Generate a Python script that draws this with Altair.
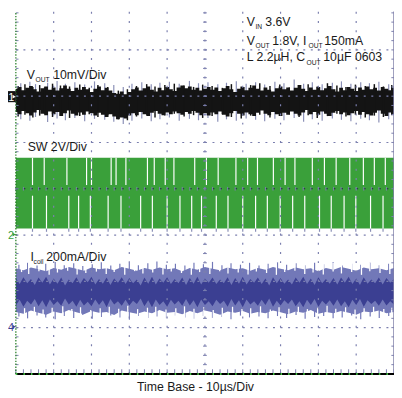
import altair as alt
import pandas as pd

# Horizontal: time in µs (10 µs/div, 10 divisions). Vertical: graticule divisions (centre = 0).
X_DOMAIN = [0, 100]
Y_DOMAIN = [-4, 3.83]

# ---------------- Channel 1: VOUT ripple (10 mV/div), band read every 1 µs ----------------
t_1us = list(range(0, 101))
vout_top = [2.16, 2.20, 2.13, 2.18, 2.22, 2.15, 2.10, 2.17, 2.21, 2.14,
            2.19, 2.12, 2.17, 2.23, 2.16, 2.11, 2.18, 2.14, 2.20, 2.15,
            2.09, 2.16, 2.21, 2.13, 2.18, 2.12, 2.07, 2.05, 2.10, 2.04,
            2.09, 2.15, 2.19, 2.12, 2.17, 2.21, 2.14, 2.10, 2.18, 2.13,
            2.20, 2.15, 2.11, 2.19, 2.23, 2.17, 2.21, 2.14, 2.18, 2.12,
            2.16, 2.20, 2.14, 2.19, 2.11, 2.17, 2.22, 2.15, 2.09, 2.16,
            2.20, 2.13, 2.18, 2.23, 2.16, 2.12, 2.19, 2.14, 2.10, 2.17,
            2.21, 2.15, 2.19, 2.12, 2.18, 2.24, 2.16, 2.11, 2.19, 2.14,
            2.20, 2.13, 2.17, 2.22, 2.15, 2.10, 2.18, 2.13, 2.20, 2.16,
            2.11, 2.19, 2.14, 2.21, 2.15, 2.18, 2.12, 2.20, 2.16, 2.13, 2.18]
vout_bot = [1.66, 1.61, 1.68, 1.63, 1.58, 1.65, 1.70, 1.62, 1.59, 1.67,
            1.61, 1.66, 1.57, 1.63, 1.69, 1.62, 1.58, 1.65, 1.60, 1.67,
            1.63, 1.58, 1.64, 1.60, 1.55, 1.61, 1.56, 1.50, 1.54, 1.52,
            1.58, 1.63, 1.59, 1.66, 1.61, 1.57, 1.64, 1.68, 1.62, 1.59,
            1.65, 1.61, 1.67, 1.63, 1.60, 1.66, 1.62, 1.68, 1.64, 1.59,
            1.63, 1.58, 1.65, 1.61, 1.67, 1.60, 1.56, 1.63, 1.68, 1.62,
            1.58, 1.65, 1.61, 1.57, 1.64, 1.69, 1.62, 1.59, 1.66, 1.61,
            1.57, 1.64, 1.60, 1.67, 1.62, 1.58, 1.65, 1.70, 1.61, 1.66,
            1.60, 1.67, 1.62, 1.57, 1.64, 1.68, 1.61, 1.65, 1.59, 1.63,
            1.68, 1.60, 1.66, 1.61, 1.58, 1.64, 1.69, 1.62, 1.57, 1.65, 1.61]
vout_spike_t = [1.3, 3.7, 5.2, 8.4, 10.9, 13.1, 15.6, 18.2, 20.8, 23.5,
                25.9, 28.4, 30.7, 33.3, 35.8, 38.1, 40.6, 43.2, 45.9, 48.3,
                50.8, 53.4, 55.7, 58.3, 60.9, 63.4, 65.8, 68.5, 70.9, 73.6,
                76.1, 78.4, 81.0, 83.7, 86.1, 88.6, 91.2, 93.5, 96.0, 98.6]
vout_spike_lo = [1.50, 1.47, 1.55, 1.44, 1.52, 1.48, 1.53, 1.46, 1.51, 1.49,
                 1.45, 1.40, 1.47, 1.52, 1.46, 1.50, 1.54, 1.47, 1.51, 1.48,
                 1.53, 1.45, 1.50, 1.47, 1.52, 1.49, 1.46, 1.51, 1.48, 1.53,
                 1.45, 1.50, 1.47, 1.52, 1.49, 1.46, 1.51, 1.48, 1.43, 1.50]
vout_spike_hi = [2.28, 2.31, 2.26, 2.29, 2.33, 2.27, 2.30, 2.25, 2.32, 2.28,
                 2.24, 2.20, 2.27, 2.30, 2.26, 2.29, 2.31, 2.27, 2.33, 2.28,
                 2.30, 2.26, 2.29, 2.32, 2.27, 2.30, 2.25, 2.31, 2.28, 2.36,
                 2.27, 2.30, 2.26, 2.29, 2.32, 2.27, 2.30, 2.28, 2.31, 2.26]
vout_dark_t = [0.6, 2.4, 4.5, 6.3, 7.6, 9.7, 11.8, 14.2, 16.9, 19.4,
               21.7, 24.3, 27.1, 29.5, 31.9, 34.6, 36.8, 39.4, 41.9, 44.5,
               47.0, 49.4, 51.9, 54.6, 57.0, 59.6, 62.1, 64.5, 67.2, 69.8,
               72.3, 74.9, 77.3, 79.7, 82.4, 84.9, 87.3, 89.8, 92.4, 94.8, 97.2, 99.4]
vout_dark_lo = [1.56, 1.60, 1.54, 1.58, 1.62, 1.55, 1.59, 1.53, 1.57, 1.61,
                1.55, 1.59, 1.50, 1.48, 1.56, 1.60, 1.54, 1.58, 1.62, 1.56,
                1.59, 1.53, 1.57, 1.61, 1.55, 1.52, 1.58, 1.60, 1.54, 1.57,
                1.61, 1.55, 1.59, 1.53, 1.57, 1.62, 1.56, 1.60, 1.54, 1.58, 1.55, 1.59]
vout_dark_hi = [2.22, 2.26, 2.20, 2.24, 2.19, 2.27, 2.23, 2.21, 2.25, 2.18,
                2.24, 2.20, 2.12, 2.15, 2.22, 2.26, 2.21, 2.24, 2.27, 2.23,
                2.20, 2.25, 2.22, 2.18, 2.26, 2.21, 2.24, 2.28, 2.22, 2.25,
                2.19, 2.23, 2.26, 2.21, 2.28, 2.23, 2.20, 2.25, 2.22, 2.26, 2.21, 2.24]

# ---------------- Channel 2: SW node (2 V/div) ----------------
sw_high = 0.67
sw_low = -0.86
sw_gap_top_t = [4.4, 7.5, 13.5, 18.7, 20.0, 25.2, 26.5, 29.1, 34.8, 36.6, 39.5, 41.8,
                47.3, 50.4, 53.5, 58.2, 61.3, 63.9, 68.1, 71.2, 73.8, 78.4, 81.6,
                84.7, 88.3, 91.9, 94.8, 97.7]
sw_gap_bot_t = [4.4, 8.1, 14.0, 16.6, 19.7, 24.4, 27.8, 33.0, 36.1, 40.0, 43.4, 46.5,
                49.1, 53.0, 56.1, 60.0, 63.4, 66.5, 69.9, 73.2, 76.4, 80.3, 83.4,
                86.8, 89.9, 93.8, 97.1]
sw_gap_mid = 0.08
sw_gap_mid_lo = -0.15
sw_under_lo = -0.93

# ---------------- Channel 4: coil current (200 mA/div) ----------------
t_2us = list(range(0, 101, 2))
il_outer_top = [-1.72, -1.76, -1.70, -1.74, -1.78, -1.71, -1.75, -1.69, -1.73, -1.77,
                -1.70, -1.74, -1.72, -1.76, -1.69, -1.73, -1.77, -1.71, -1.75, -1.70,
                -1.74, -1.72, -1.78, -1.71, -1.75, -1.69, -1.73, -1.76, -1.70, -1.74,
                -1.72, -1.77, -1.71, -1.75, -1.69, -1.73, -1.76, -1.70, -1.74, -1.72,
                -1.78, -1.71, -1.75, -1.69, -1.73, -1.77, -1.70, -1.74, -1.72, -1.76, -1.71]
il_outer_bot = [-2.66, -2.70, -2.63, -2.68, -2.72, -2.65, -2.69, -2.62, -2.67, -2.71,
                -2.64, -2.68, -2.66, -2.73, -2.63, -2.67, -2.70, -2.65, -2.69, -2.62,
                -2.68, -2.66, -2.71, -2.64, -2.69, -2.63, -2.67, -2.72, -2.65, -2.68,
                -2.64, -2.70, -2.66, -2.69, -2.63, -2.67, -2.71, -2.65, -2.68, -2.62,
                -2.70, -2.66, -2.69, -2.64, -2.68, -2.72, -2.65, -2.67, -2.63, -2.69, -2.66]
il_core_top = [-1.93, -2.06, -1.91, -2.04, -1.95, -2.08, -1.92, -2.03, -1.90, -2.07,
               -1.94, -2.05, -1.92, -2.09, -1.96, -2.04, -1.91, -2.06, -1.93, -2.02,
               -1.90, -2.07, -1.95, -2.05, -1.92, -2.08, -1.94, -2.03, -1.91, -2.06,
               -1.93, -2.04, -1.96, -2.09, -1.92, -2.05, -1.90, -2.07, -1.94, -2.03,
               -1.91, -2.06, -1.95, -2.04, -1.92, -2.08, -1.93, -2.05, -1.90, -2.07,
               -1.94, -2.03, -1.92, -2.06, -1.96, -2.04, -1.91, -2.08, -1.93, -2.05,
               -1.90, -2.07, -1.95, -2.03, -1.92, -2.06, -1.94, -2.09, -1.91, -2.04,
               -1.93, -2.05, -1.96, -2.07, -1.92, -2.03, -1.90, -2.06, -1.94, -2.08,
               -1.91, -2.04, -1.95, -2.05, -1.93, -2.07, -1.92, -2.03, -1.90, -2.06,
               -1.94, -2.08, -1.91, -2.05, -1.96, -2.04, -1.92, -2.07, -1.93, -2.03, -1.95]
il_core_bot = [-2.52, -2.40, -2.55, -2.42, -2.50, -2.38, -2.54, -2.41, -2.56, -2.39,
               -2.51, -2.43, -2.53, -2.37, -2.50, -2.42, -2.55, -2.40, -2.52, -2.44,
               -2.54, -2.39, -2.51, -2.41, -2.56, -2.38, -2.50, -2.43, -2.53, -2.40,
               -2.52, -2.42, -2.49, -2.37, -2.54, -2.41, -2.56, -2.39, -2.51, -2.43,
               -2.55, -2.40, -2.50, -2.42, -2.53, -2.38, -2.52, -2.41, -2.56, -2.39,
               -2.51, -2.43, -2.54, -2.40, -2.49, -2.42, -2.55, -2.38, -2.52, -2.41,
               -2.56, -2.39, -2.50, -2.43, -2.53, -2.40, -2.51, -2.37, -2.55, -2.42,
               -2.52, -2.41, -2.49, -2.39, -2.54, -2.43, -2.56, -2.40, -2.51, -2.38,
               -2.55, -2.42, -2.50, -2.41, -2.53, -2.39, -2.54, -2.43, -2.56, -2.40,
               -2.51, -2.38, -2.55, -2.41, -2.49, -2.42, -2.53, -2.39, -2.52, -2.43, -2.50]
il_spike_t = [0.8, 3.1, 5.6, 7.9, 10.4, 12.8, 15.3, 17.7, 20.2, 22.6, 25.1, 27.5,
              30.0, 32.4, 34.9, 37.3, 39.8, 42.2, 44.7, 47.1, 49.6, 52.0, 54.5,
              56.9, 59.4, 61.8, 64.3, 66.7, 69.2, 71.6, 74.1, 76.5, 79.0, 81.4,
              83.9, 86.3, 88.8, 91.2, 93.7, 96.1, 98.6]
il_spike_hi = [-1.64, -1.60, -1.66, -1.62, -1.58, -1.65, -1.61, -1.67, -1.63, -1.59,
               -1.66, -1.62, -1.60, -1.65, -1.61, -1.57, -1.64, -1.62, -1.66, -1.60,
               -1.63, -1.58, -1.65, -1.61, -1.64, -1.60, -1.66, -1.62, -1.59, -1.64,
               -1.61, -1.65, -1.60, -1.63, -1.58, -1.66, -1.62, -1.64, -1.60, -1.65, -1.62]
il_spike_lo = [-2.76, -2.80, -2.74, -2.78, -2.82, -2.75, -2.79, -2.73, -2.81, -2.77,
               -2.74, -2.78, -2.83, -2.75, -2.79, -2.76, -2.80, -2.74, -2.78, -2.81,
               -2.75, -2.79, -2.77, -2.82, -2.74, -2.78, -2.76, -2.80, -2.75, -2.79,
               -2.73, -2.81, -2.77, -2.75, -2.80, -2.78, -2.74, -2.82, -2.76, -2.79, -2.75]
il_gap_top_t = [1.5, 3.4, 6.1, 8.8, 11.0, 13.7, 16.2, 18.5, 21.3, 23.9, 26.0, 28.8,
                31.4, 33.6, 36.2, 38.9, 41.1, 43.8, 46.4, 48.6, 51.3, 53.9, 56.1,
                58.8, 61.4, 63.6, 66.3, 68.9, 71.1, 73.8, 76.4, 78.6, 81.3, 83.9,
                86.1, 88.8, 91.4, 93.6, 96.3, 98.9]
il_gap_top_lo = [-1.80, -1.84, -1.78, -1.86, -1.81, -1.77, -1.85, -1.82, -1.79, -1.84,
                 -1.80, -1.86, -1.78, -1.83, -1.81, -1.85, -1.79, -1.82, -1.86, -1.80,
                 -1.84, -1.78, -1.83, -1.81, -1.85, -1.79, -1.82, -1.86, -1.80, -1.77,
                 -1.84, -1.81, -1.85, -1.79, -1.83, -1.80, -1.86, -1.78, -1.82, -1.84]
il_gap_bot_t = [2.3, 4.9, 7.2, 9.6, 12.4, 14.8, 17.1, 19.8, 22.3, 24.7, 27.2, 29.6,
                32.2, 34.8, 37.0, 39.7, 42.3, 44.6, 47.1, 49.7, 52.2, 54.6, 57.3,
                59.8, 62.1, 64.7, 67.3, 69.6, 72.2, 74.7, 77.1, 79.8, 82.3, 84.6,
                87.2, 89.7, 92.1, 94.6, 97.3, 99.4]
il_gap_bot_hi = [-2.58, -2.55, -2.61, -2.57, -2.54, -2.60, -2.56, -2.62, -2.58, -2.55,
                 -2.59, -2.53, -2.60, -2.57, -2.55, -2.61, -2.58, -2.54, -2.59, -2.56,
                 -2.62, -2.57, -2.55, -2.60, -2.58, -2.54, -2.61, -2.56, -2.59, -2.55,
                 -2.60, -2.57, -2.53, -2.59, -2.56, -2.61, -2.58, -2.55, -2.60, -2.57]

# ---------------- Graticule ----------------
grid_t = [10, 20, 30, 40, 60, 70, 80, 90]
grid_div = [-3, -2, -1, 1, 2, 3]
minor_t = [t / 10 for t in range(0, 1001, 20)]
minor_div = [d / 10 for d in range(-40, 39, 2)]

# ---------------- Text ----------------
MAIN = 12.5
SUB = 6.8
labels_t = [61.04, 63.38, 65.97,
            61.04, 63.38, 67.79, 77.40, 81.56,
            61.04, 76.88, 81.30,
            2.86, 5.19, 9.87,
            3.12,
            3.90, 4.68, 8.05]
labels_y = [3.51, 3.45, 3.51,
            3.11, 3.04, 3.11, 3.04, 3.11,
            2.75, 2.68, 2.75,
            2.37, 2.30, 2.37,
            0.82,
            -1.56, -1.63, -1.56]
labels_text = ["V", "IN", "3.6V",
               "V", "OUT", "1.8V, I", "OUT", "150mA",
               "L 2.2µH, C", "OUT", "10µF 0603",
               "V", "OUT", "10mV/Div",
               "SW 2V/Div",
               "I", "coil", "200mA/Div"]
labels_size = [MAIN, SUB, MAIN,
               MAIN, SUB, MAIN, SUB, MAIN,
               MAIN, SUB, MAIN,
               MAIN, SUB, MAIN,
               MAIN,
               MAIN, SUB, MAIN]
axis_title = "Time Base - 10µs/Div"

BLACK = "#141414"
GREEN = "#3aa03a"
BLUE = "#3b3f92"
LBLUE = "#7278b8"
GREY = "#8a8fb6"
GRID = "#7b7fae"
FONT = "Liberation Sans"

xs = alt.Scale(domain=X_DOMAIN, nice=False, zero=False)
ys = alt.Scale(domain=Y_DOMAIN, nice=False, zero=False)


def X(f="x"):
    return alt.X(f"{f}:Q", scale=xs, axis=None)


def Y(f="y"):
    return alt.Y(f"{f}:Q", scale=ys, axis=None)


def band(ts, lo, hi, color, interp="linear"):
    df = pd.DataFrame({"x": ts, "y": lo, "y2": hi})
    return alt.Chart(df).mark_area(color=color, interpolate=interp, opacity=1).encode(
        x=X(), y=Y(), y2="y2:Q")


def vrules(ts, lo, hi, color, width=1.0):
    n = len(ts)
    lo = lo if isinstance(lo, list) else [lo] * n
    hi = hi if isinstance(hi, list) else [hi] * n
    df = pd.DataFrame({"x": ts, "y": lo, "y2": hi})
    return alt.Chart(df).mark_rule(color=color, strokeWidth=width).encode(
        x=X(), y=Y(), y2="y2:Q")


def hrules(ds, x0, x1, color, width=1.0, dash=None):
    df = pd.DataFrame({"y": ds, "x": [x0] * len(ds), "x2": [x1] * len(ds)})
    kw = dict(color=color, strokeWidth=width)
    if dash:
        kw["strokeDash"] = dash
    return alt.Chart(df).mark_rule(**kw).encode(x=X(), x2="x2:Q", y=Y())


layers = []

# traces
layers.append(vrules(vout_spike_t, vout_spike_lo, vout_spike_hi, GREY, 1.2))
layers.append(band(t_1us, vout_bot, vout_top, BLACK, "step"))
layers.append(vrules(vout_dark_t, vout_dark_lo, vout_dark_hi, BLACK, 1.5))

sw_df = pd.DataFrame({"x": [0], "x2": [100], "y": [sw_low], "y2": [sw_high]})
layers.append(alt.Chart(sw_df).mark_rect(color=GREEN).encode(x=X(), x2="x2:Q", y=Y(), y2="y2:Q"))
layers.append(vrules(sw_gap_bot_t, sw_under_lo, sw_low, GREY, 1.2))
layers.append(vrules(sw_gap_top_t, sw_gap_mid, sw_high, "white", 1.2))
layers.append(vrules(sw_gap_bot_t, sw_low, sw_gap_mid_lo, "white", 1.2))

layers.append(vrules(il_spike_t, il_spike_lo, il_spike_hi, LBLUE, 1.2))
layers.append(band(t_2us, il_outer_bot, il_outer_top, LBLUE))
layers.append(vrules(il_gap_top_t, il_gap_top_lo, 0 - 1.6, "white", 1.3))
layers.append(vrules(il_gap_bot_t, -2.85, il_gap_bot_hi, "white", 1.3))
layers.append(band(t_1us, il_core_bot, il_core_top, BLUE))

# graticule
vdf = pd.DataFrame({"x": grid_t, "y": [-4] * len(grid_t), "y2": [3.83] * len(grid_t)})
layers.append(alt.Chart(vdf).mark_rule(color=GRID, strokeWidth=1.2, strokeDash=[2, 7.4]).encode(
    x=X(), y=Y(), y2="y2:Q"))
layers.append(hrules(grid_div, 0, 100, GRID, 1.2, [2, 5.7]))
# centre cross
layers.append(hrules([0], 0, 100, "#222244", 1.2, [2, 5.7]))
cdf = pd.DataFrame({"x": [50], "y": [-4], "y2": [3.83]})
layers.append(alt.Chart(cdf).mark_rule(color=GRID, strokeWidth=1.2, strokeDash=[2, 7.4]).encode(
    x=X(), y=Y(), y2="y2:Q"))
layers.append(hrules(minor_div, 49.5, 50.5, GRID, 1))
layers.append(vrules(minor_t, -0.04, 0.04, GRID, 1))
# edges
layers.append(hrules(minor_div, 0, 0.7, GRID, 1))
layers.append(hrules(minor_div, 99.3, 100, GRID, 1))
layers.append(vrules(minor_t, -4, -3.9, GRID, 1))
edge_df = pd.DataFrame({"x": [0], "y": [-4], "y2": [3.83]})
layers.append(alt.Chart(edge_df).mark_rule(color="#1f7a1f", strokeWidth=1.2, strokeDash=[1.5, 1.5]).encode(
    x=X(), y=Y(), y2="y2:Q"))
edge_r = pd.DataFrame({"x": [100], "y": [-4], "y2": [3.83]})
layers.append(alt.Chart(edge_r).mark_rule(color="#8080a8", strokeWidth=1.5).encode(
    x=X(), y=Y(), y2="y2:Q"))
layers.append(hrules([-4], 0, 100, "black", 2))
layers.append(hrules([-4], 0, 100, "#3fbf3f", 2, [1.5, 6.2]))

# channel markers
mk_box = pd.DataFrame({"x": [-2.08], "x2": [0], "y": [1.87], "y2": [2.11]})
layers.append(alt.Chart(mk_box).mark_rect(color=BLACK).encode(x=X(), x2="x2:Q", y=Y(), y2="y2:Q"))
mk_txt = pd.DataFrame({"x": [-2.0, -2.08, -2.08], "y": [1.90, -1.08, -3.08],
                       "t": ["1", "2", "4"], "c": ["white", GREEN, BLUE]})
layers.append(alt.Chart(mk_txt).mark_text(font=FONT, fontSize=11, align="left", baseline="alphabetic").encode(
    x=X(), y=Y(), text="t:N", color=alt.Color("c:N", scale=None)))
mk_tri = pd.DataFrame({"x": [-0.45, -0.45, -0.45], "y": [1.99, -0.99, -2.98], "c": ["white", GREEN, BLUE]})
layers.append(alt.Chart(mk_tri).mark_point(shape="triangle-right", filled=True, size=14, opacity=1).encode(
    x=X(), y=Y(), color=alt.Color("c:N", scale=None)))

# labels
ldf = pd.DataFrame({"x": labels_t, "y": labels_y, "t": labels_text, "s": labels_size})
layers.append(alt.Chart(ldf).mark_text(font=FONT, align="left", baseline="alphabetic", color="#1a1a1a").encode(
    x=X(), y=Y(), text="t:N", size=alt.Size("s:Q", scale=None)))
tdf = pd.DataFrame({"x": [47.5], "y": [-4.36], "t": [axis_title]})
layers.append(alt.Chart(tdf).mark_text(font=FONT, fontSize=MAIN, align="center", baseline="alphabetic",
                                       color="#1a1a1a").encode(x=X(), y=Y(), text="t:N"))

chart = alt.layer(*layers).properties(
    width=385, height=369,
    autosize=alt.AutoSizeParams(type="none"),
    padding={"left": 8, "top": 0, "right": 0, "bottom": 21},
    background="white",
).configure_view(stroke=None)

chart.save("out.html", embed_options={"renderer": "svg", "actions": False})
